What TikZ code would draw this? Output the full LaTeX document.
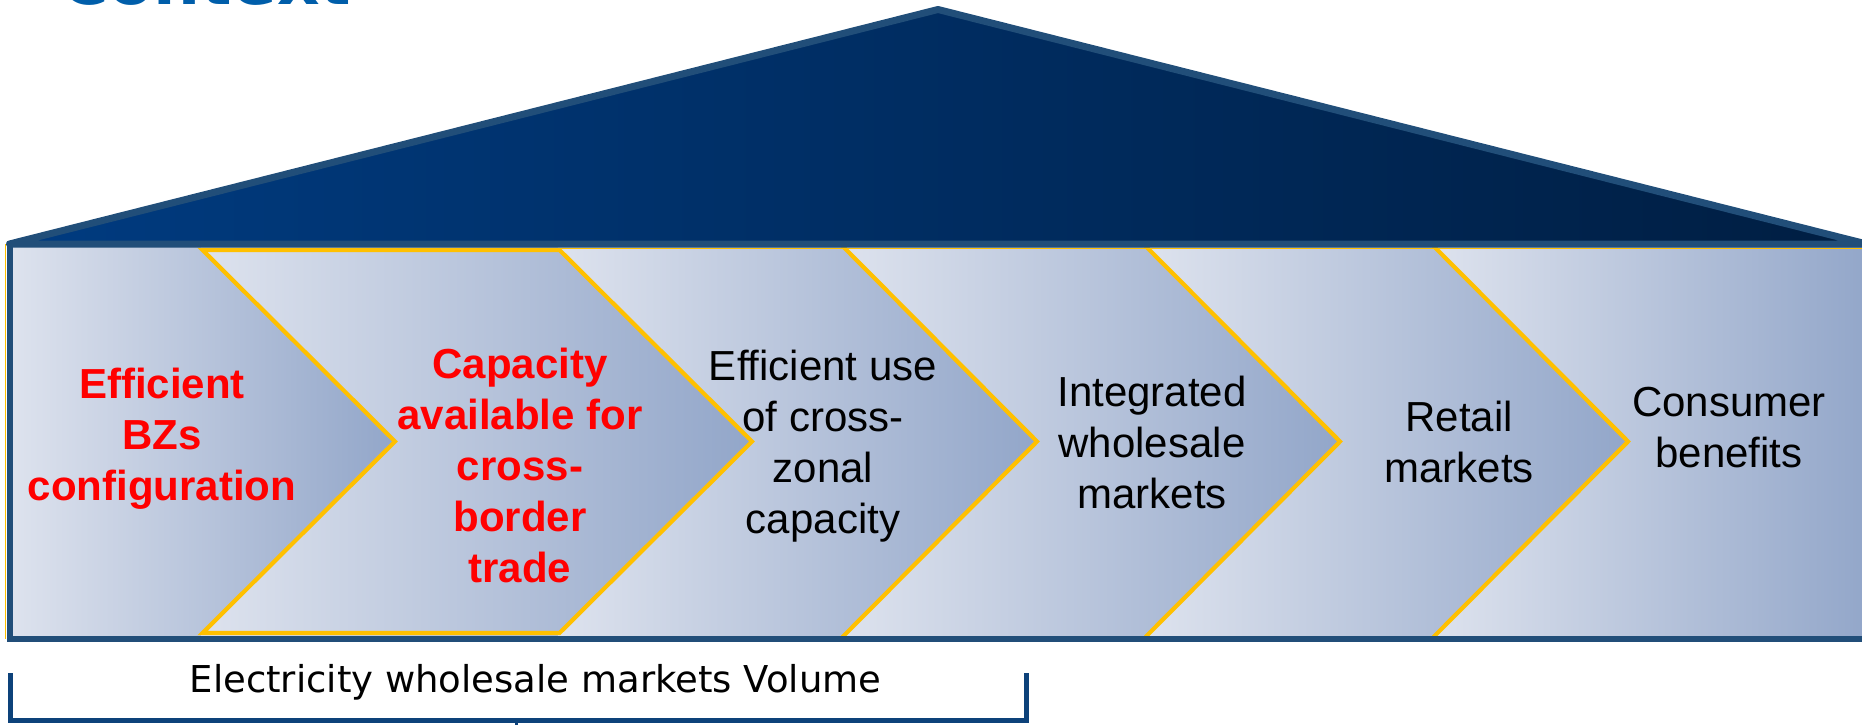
\documentclass[tikz,border=0pt]{standalone}
\usepackage{fontspec}
\setmainfont{Liberation Sans}
\newfontfamily\verd{DejaVu Sans}
\definecolor{frameblue}{RGB}{33,78,121}
\definecolor{roofL}{RGB}{0,59,128}
\definecolor{roofR}{RGB}{0,30,66}
\definecolor{chevL}{RGB}{222,227,238}
\definecolor{chevR}{RGB}{146,166,201}
\definecolor{goldline}{RGB}{255,192,0}
\definecolor{brk}{RGB}{13,66,122}
\definecolor{ctxblue}{RGB}{0,94,170}
\definecolor{redtxt}{RGB}{255,0,0}
\begin{document}
\begin{tikzpicture}[x=1pt,y=-1pt,
  chev/.style={left color=chevL, right color=chevR, draw=none},
  goldv/.style={draw=goldline, line width=4.2pt, line join=miter},
  lbl/.style={anchor=north, align=center, inner sep=0pt, text=black, font=\fontsize{42}{51}\selectfont},
  redlbl/.style={lbl, text=redtxt, font=\fontsize{42}{51}\selectfont\bfseries},
  frame/.style={draw=frameblue, line width=6.5pt},
  roof/.style={left color=roofL, right color=roofR, draw=frameblue, line width=7pt, line join=round},
  bracket/.style={draw=brk, line width=5pt}]
\useasboundingbox (0,0) rectangle (1862,725);
\clip (0,0) rectangle (1862,725);
% title (cut by the top edge, as in the reference)
\node[anchor=base west, inner sep=0pt, text=ctxblue, font=\verd\bfseries\fontsize{66}{79}\selectfont] (title) at (60,5) {Context};
% chevrons
\path[chev] (8,244) -- (197.5,244) -- (395,441.5) -- (197.5,639) -- (8,639) -- cycle;
\path[chev] (197.5,244) -- (554.5,244) -- (752,441.5) -- (554.5,639) -- (197.5,639) -- (395,441.5) -- cycle;
\path[chev] (554.5,244) -- (839.5,244) -- (1037,441.5) -- (839.5,639) -- (554.5,639) -- (752,441.5) -- cycle;
\path[chev] (839.5,244) -- (1142.5,244) -- (1340,441.5) -- (1142.5,639) -- (839.5,639) -- (1037,441.5) -- cycle;
\path[chev] (1142.5,244) -- (1430.5,244) -- (1628,441.5) -- (1430.5,639) -- (1142.5,639) -- (1340,441.5) -- cycle;
\path[chev] (1430.5,244) -- (1870,244) -- (1870,639) -- (1430.5,639) -- (1628,441.5) -- cycle;
% gold outlines
\draw[draw=goldline, line width=1pt] (559.5,248.8) -- (1870,248.8);
\draw[draw=goldline, line width=1.2pt] (5.6,244) -- (5.6,639);
\draw[goldv] (202.5,250) -- (559.5,250) -- (752,441.5) -- (559.5,633) -- (202.5,633) -- (395,441.5) -- cycle;
\draw[goldv] (842.5,246) -- (1037,441.5) -- (842.5,637);
\draw[goldv] (1145.5,246) -- (1340,441.5) -- (1145.5,637);
\draw[goldv] (1433.5,246) -- (1628,441.5) -- (1433.5,637);
% frame
\draw[frame] (10,244) rectangle (1866,639);
% roof
\path[roof] (9.5,244) -- (938,9.5) -- (1866.5,244) -- cycle;
% labels
\node[redlbl] (c1) at (162,367.4) {Efficient\\BZs\\configuration};
\node[redlbl] (c2) at (520,347.4) {Capacity\\available for\\cross-\\border\\trade};
\node[lbl] (c3) at (823,349.4) {Efficient use\\of cross-\\zonal\\capacity};
\node[lbl] (c4) at (1152,375.4) {Integrated\\wholesale\\markets};
\node[lbl] (c5) at (1459,400.4) {Retail\\markets};
\node[lbl] (c6) at (1729,387.4) {Consumer\\benefits};
% bracket
\node[anchor=base, inner sep=0pt, font=\verd\fontsize{37}{44}\selectfont] (vol) at (535.5,692) {Electricity wholesale markets Volume};
\coordinate (bl) at (10,673);
\coordinate (br) at (1026,673);
\coordinate (bm) at (516,720.5);
\draw[bracket] (bl) -- (bl |- bm) -- (br |- bm) -- (br);
\draw[draw=brk, line width=3pt] (bm) -- ++(0,8);
\end{tikzpicture}
\end{document}
